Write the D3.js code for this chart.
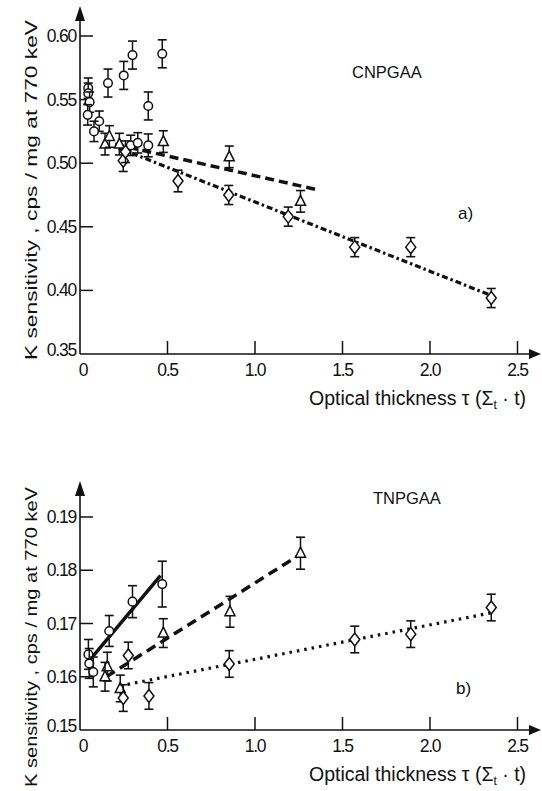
<!DOCTYPE html>
<html>
<head>
<meta charset="utf-8">
<script src="https://cdn.jsdelivr.net/npm/d3@7"></script>
<style>
  body { margin: 0; background: #fff; }
  text { font-family: "Liberation Sans", Arial, sans-serif; fill: #111; }
</style>
</head>
<body>
<div id="chart-area"></div>
<script>
// ---- data: panel a) CNPGAA ----
var aCircT = [0.047, 0.047, 0.055, 0.044, 0.11, 0.08, 0.16, 0.25, 0.30, 0.47, 0.39, 0.29, 0.33, 0.39];
var aCircV = [0.559, 0.555, 0.548, 0.538, 0.533, 0.525, 0.563, 0.569, 0.585, 0.586, 0.545, 0.514, 0.516, 0.514];
var aCircE = [0.008, 0.008, 0.008, 0.008, 0.008, 0.008, 0.011, 0.011, 0.011, 0.011, 0.011, 0.008, 0.008, 0.009];
var aTriT = [0.143, 0.168, 0.225, 0.476, 0.853, 1.26];
var aTriV = [0.515, 0.521, 0.515, 0.517, 0.505, 0.470];
var aTriE = [0.0085, 0.0085, 0.0085, 0.0085, 0.0085, 0.0085];
var aDiaT = [0.247, 0.26, 0.56, 0.85, 1.19, 1.57, 1.89, 2.35];
var aDiaV = [0.502, 0.509, 0.486, 0.475, 0.458, 0.434, 0.434, 0.394];
var aDiaE = [0.0085, 0.0085, 0.0085, 0.0075, 0.0075, 0.0075, 0.0075, 0.0075];
var aDashT = [0.2, 1.36], aDashV = [0.515, 0.479];
var aDotT = [0.22, 2.35], aDotV = [0.512, 0.396];

// ---- data: panel b) TNPGAA ----
var bCircT = [0.048, 0.053, 0.076, 0.167, 0.30, 0.47];
var bCircV = [0.1642, 0.1625, 0.1609, 0.1686, 0.1741, 0.1774];
var bCircE = [0.0028, 0.0028, 0.0028, 0.0029, 0.003, 0.0043];
var bTriT = [0.156, 0.143, 0.23, 0.476, 0.857, 1.26];
var bTriV = [0.1619, 0.1600, 0.1578, 0.1682, 0.1722, 0.1832];
var bTriE = [0.0027, 0.0027, 0.0025, 0.0027, 0.0029, 0.003];
var bDiaT = [0.276, 0.247, 0.394, 0.853, 1.57, 1.89, 2.35];
var bDiaV = [0.164, 0.156, 0.1564, 0.1624, 0.167, 0.168, 0.173];
var bDiaE = [0.0025, 0.0025, 0.0025, 0.0025, 0.0025, 0.0025, 0.0025];
var bSolidT = [0.047, 0.46], bSolidV = [0.1628, 0.1790];
var bDashT = [0.15, 1.26], bDashV = [0.1600, 0.1830];
var bDotT = [0.23, 2.35], bDotV = [0.1583, 0.1720];

var xTicks = [0, 0.5, 1.0, 1.5, 2.0, 2.5];
var aTicks = [0.35, 0.40, 0.45, 0.50, 0.55, 0.60];
var bTicks = [0.15, 0.16, 0.17, 0.18, 0.19];

var svg = d3.select("#chart-area")
  .append("svg")
    .attr("width", 542)
    .attr("height", 791);

var x = d3.scaleLinear().domain([0, 2.5]).range([80, 517.5]);

function panel(cfg) {
  var y = d3.scaleLinear().domain(cfg.yDomain).range(cfg.yRange);
  var g = svg.append("g");
  var y0 = cfg.yRange[0];

  // axes lines with arrows
  g.append("line").attr("x1", 80).attr("x2", 80).attr("y1", y0).attr("y2", cfg.arrowTop + 8)
    .attr("stroke", "#111").attr("stroke-width", 1.6);
  g.append("path").attr("d", "M80," + cfg.arrowTop + "l-5,15l10,0z").attr("fill", "#111");
  g.append("line").attr("x1", 80).attr("x2", 532).attr("y1", y0).attr("y2", y0)
    .attr("stroke", "#111").attr("stroke-width", 1.6);
  g.append("path").attr("d", "M541," + y0 + "l-12,-5l0,10z").attr("fill", "#111");

  // y ticks (inward)
  cfg.yTicks.forEach(function(t, i) {
    if (i > 0) g.append("line").attr("x1", 80).attr("x2", 93).attr("y1", y(t)).attr("y2", y(t))
      .attr("stroke", "#111").attr("stroke-width", 1.5);
    g.append("text").attr("x", 76).attr("y", y(t) + (i === 0 ? 2 : 6))
      .attr("text-anchor", "end").attr("font-size", 17.5).attr("letter-spacing", -1.2)
      .text(cfg.fmt(t));
  });
  // x ticks (inward)
  xTicks.forEach(function(t, i) {
    if (i > 0) g.append("line").attr("x1", x(t)).attr("x2", x(t)).attr("y1", y0).attr("y2", y0 - 13)
      .attr("stroke", "#111").attr("stroke-width", 1.5);
    g.append("text").attr("x", x(t) + (i === 0 ? 3 : 0)).attr("y", y0 + 22)
      .attr("text-anchor", "middle").attr("font-size", 17.5).attr("letter-spacing", -1.2)
      .text(i === 0 ? "0" : d3.format(".1f")(t));
  });

  // axis titles
  g.append("text")
    .attr("transform", "translate(" + 37 + "," + cfg.yLabelY + ") rotate(-90)")
    .attr("text-anchor", "middle").attr("font-size", 17)
    .attr("textLength", cfg.yLabelLen).attr("lengthAdjust", "spacingAndGlyphs")
    .text("K sensitivity , cps / mg at 770 keV");
  var xl = g.append("text").attr("x", 309).attr("y", y0 + 51).attr("font-size", 19.5);
  xl.append("tspan").text("Optical thickness \u03C4 (\u03A3");
  xl.append("tspan").attr("dy", 4).attr("font-size", 12).text("t");
  xl.append("tspan").attr("dy", -4).text(" \u00B7 t)");

  g.append("text").attr("x", cfg.nameX).attr("y", cfg.nameY).attr("font-size", 16.5).text(cfg.name);
  g.append("text").attr("x", cfg.tagX).attr("y", cfg.tagY).attr("font-size", 17).text(cfg.tag);

  // fit lines
  var line = d3.line().x(function(d) { return x(d[0]); }).y(function(d) { return y(d[1]); });
  cfg.lines.forEach(function(l) {
    g.append("path").datum(d3.zip(l.t, l.v)).attr("d", line)
      .attr("fill", "none").attr("stroke", "#111").attr("stroke-width", l.w)
      .attr("stroke-dasharray", l.dash);
  });

  // points with error bars
  cfg.series.forEach(function(s) {
    var data = s.t.map(function(t, i) { return { t: t, v: s.v[i], e: s.e[i] }; });
    var pg = g.selectAll(null).data(data).enter().append("g");
    pg.append("line").attr("x1", function(d) { return x(d.t); }).attr("x2", function(d) { return x(d.t); })
      .attr("y1", function(d) { return y(d.v + d.e); }).attr("y2", function(d) { return y(d.v - d.e); })
      .attr("stroke", "#111").attr("stroke-width", 1.5);
    [1, -1].forEach(function(sg) {
      pg.append("line").attr("x1", function(d) { return x(d.t) - 4.5; }).attr("x2", function(d) { return x(d.t) + 4.5; })
        .attr("y1", function(d) { return y(d.v + sg * d.e); }).attr("y2", function(d) { return y(d.v + sg * d.e); })
        .attr("stroke", "#111").attr("stroke-width", 1.6);
    });
    pg.append("path")
      .attr("transform", function(d) { return "translate(" + x(d.t) + "," + y(d.v) + ")"; })
      .attr("d", s.shape)
      .attr("fill", "#fff").attr("stroke", "#111").attr("stroke-width", 1.5);
  });
}

var circ = "M-4.3,0a4.3,4.3 0 1,0 8.6,0a4.3,4.3 0 1,0 -8.6,0z";
var tri = "M0,-6L5,4L-5,4z";
var dia = "M0,-6.5L5,0L0,6.5L-5,0z";

panel({
  yDomain: [0.35, 0.60], yRange: [354, 36], arrowTop: 6, yTicks: aTicks,
  fmt: d3.format(".2f"), yLabelY: 190, yLabelLen: 340,
  name: "CNPGAA", nameX: 352, nameY: 78, tag: "a)", tagX: 458, tagY: 219,
  lines: [
    { t: aDashT, v: aDashV, w: 3.5, dash: "9,5" },
    { t: aDotT, v: aDotV, w: 3.2, dash: "6,3,2.5,3" }
  ],
  series: [
    { t: aCircT, v: aCircV, e: aCircE, shape: circ },
    { t: aTriT, v: aTriV, e: aTriE, shape: tri },
    { t: aDiaT, v: aDiaV, e: aDiaE, shape: dia }
  ]
});

panel({
  yDomain: [0.15, 0.19], yRange: [730, 517], arrowTop: 481, yTicks: bTicks,
  fmt: d3.format(".2f"), yLabelY: 637, yLabelLen: 300,
  name: "TNPGAA", nameX: 373, nameY: 504, tag: "b)", tagX: 456, tagY: 694,
  lines: [
    { t: bSolidT, v: bSolidV, w: 3.5, dash: null },
    { t: bDashT, v: bDashV, w: 3.5, dash: "10,6" },
    { t: bDotT, v: bDotV, w: 3.2, dash: "2.5,5" }
  ],
  series: [
    { t: bCircT, v: bCircV, e: bCircE, shape: circ },
    { t: bTriT, v: bTriV, e: bTriE, shape: tri },
    { t: bDiaT, v: bDiaV, e: bDiaE, shape: dia }
  ]
});
</script>
</body>
</html>
